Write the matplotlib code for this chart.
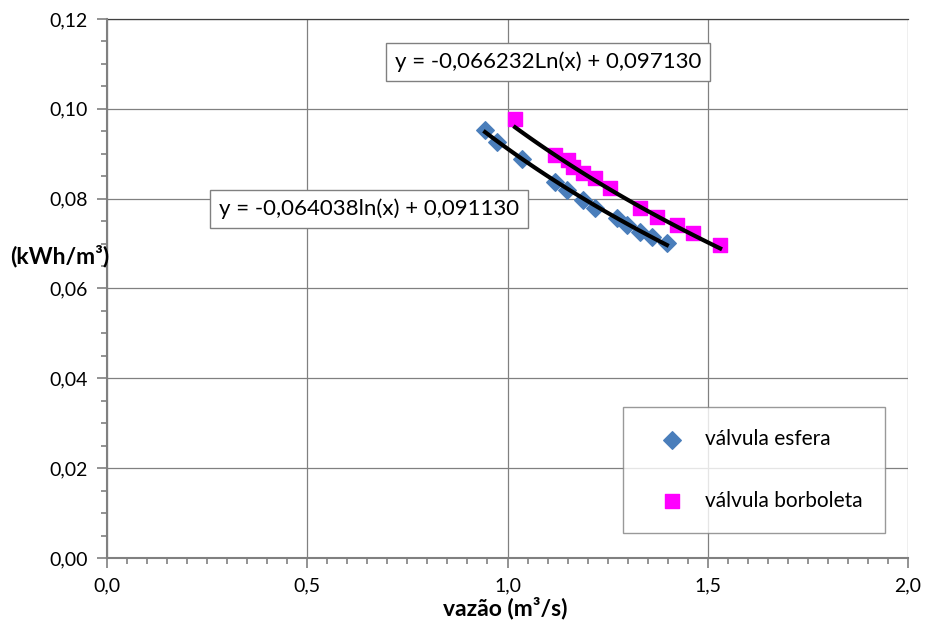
import numpy as np
import matplotlib.pyplot as plt
from matplotlib.ticker import MultipleLocator, FuncFormatter

plt.rcParams['font.family'] = ['Lato', 'DejaVu Sans']

# válvula esfera
x_esfera = [0.944, 0.974, 1.036, 1.119, 1.149, 1.188, 1.218, 1.273, 1.298, 1.331, 1.361, 1.398]
y_esfera = [0.0953, 0.0926, 0.0888, 0.0837, 0.0819, 0.0797, 0.0779, 0.0757, 0.0741, 0.0726, 0.0715, 0.0701]

# válvula borboleta
x_borb = [1.019, 1.119, 1.151, 1.164, 1.188, 1.218, 1.256, 1.331, 1.373, 1.423, 1.463, 1.531]
y_borb = [0.0977, 0.0897, 0.0886, 0.0870, 0.0857, 0.0846, 0.0824, 0.0779, 0.0759, 0.0741, 0.0723, 0.0697]

# trendline coefficients (y = a ln(x) + b)
a_esf, b_esf = -0.064038, 0.091130
a_bor, b_bor = -0.066232, 0.097130

fig = plt.figure(figsize=(9.25, 6.24), dpi=100)
ax = fig.add_axes([0.1157, 0.1058, 0.8659, 0.8638])

ax.scatter(x_esfera, y_esfera, marker='D', s=80, color='#4a7ebb', zorder=3, label='válvula esfera')
ax.scatter(x_borb, y_borb, marker='s', s=110, color='#ff00ff', zorder=3, label='válvula borboleta')

xe = np.linspace(min(x_esfera), max(x_esfera), 100)
ax.plot(xe, a_esf * np.log(xe) + b_esf, color='black', lw=3, zorder=4)
xb = np.linspace(min(x_borb), max(x_borb), 100)
ax.plot(xb, a_bor * np.log(xb) + b_bor, color='black', lw=3, zorder=4)

ax.set_xlim(0, 2.0)
ax.set_ylim(0, 0.12)
ax.xaxis.set_major_locator(MultipleLocator(0.5))
ax.xaxis.set_minor_locator(MultipleLocator(0.05))
ax.yaxis.set_major_locator(MultipleLocator(0.02))
ax.yaxis.set_minor_locator(MultipleLocator(0.005))
ax.xaxis.set_major_formatter(FuncFormatter(lambda v, p: f'{v:.1f}'.replace('.', ',')))
ax.yaxis.set_major_formatter(FuncFormatter(lambda v, p: f'{v:.2f}'.replace('.', ',')))
ax.tick_params(which='major', length=7, width=1.2, color='#808080', labelsize=14, pad=7)
ax.tick_params(which='minor', length=4, width=1.2, color='#808080')

ax.grid(True, which='major', color='#808080', lw=0.9)
ax.set_axisbelow(True)
for s in ['top', 'right']:
    ax.spines[s].set_visible(False)
for s in ['left', 'bottom']:
    ax.spines[s].set_color('#808080')
    ax.spines[s].set_linewidth(1.5)
ax.plot([0, 2.0], [0.12, 0.12], color='#404040', lw=0.9, clip_on=False)

fig.text(505 / 925, 1 - 608 / 624, 'vazão (m³/s)', fontsize=16.5, fontweight='bold', ha='center', va='center')
ax.text(-0.0587, 0.0673, '(kWh/m³)', fontsize=16.5, fontweight='bold', ha='center', va='center',
        transform=ax.get_yaxis_transform())

box = dict(boxstyle='square,pad=0.4', fc='white', ec='#808080', lw=1)
ax.text(1.101, 0.1104, 'y = -0,066232Ln(x) + 0,097130', fontsize=16, ha='center', va='center', bbox=box)
ax.text(0.654, 0.0777, 'y = -0,064038ln(x) + 0,091130', fontsize=16, ha='center', va='center', bbox=box)

leg = ax.legend(loc='lower right', bbox_to_anchor=(0.971, 0.047), fontsize=15, frameon=True,
                fancybox=False, edgecolor='#808080', labelspacing=2.0, borderpad=1.05,
                handletextpad=0.3, borderaxespad=0, scatterpoints=1, handlelength=2.6)
leg.get_frame().set_linewidth(1)

fig.savefig('out.png', dpi=100)
